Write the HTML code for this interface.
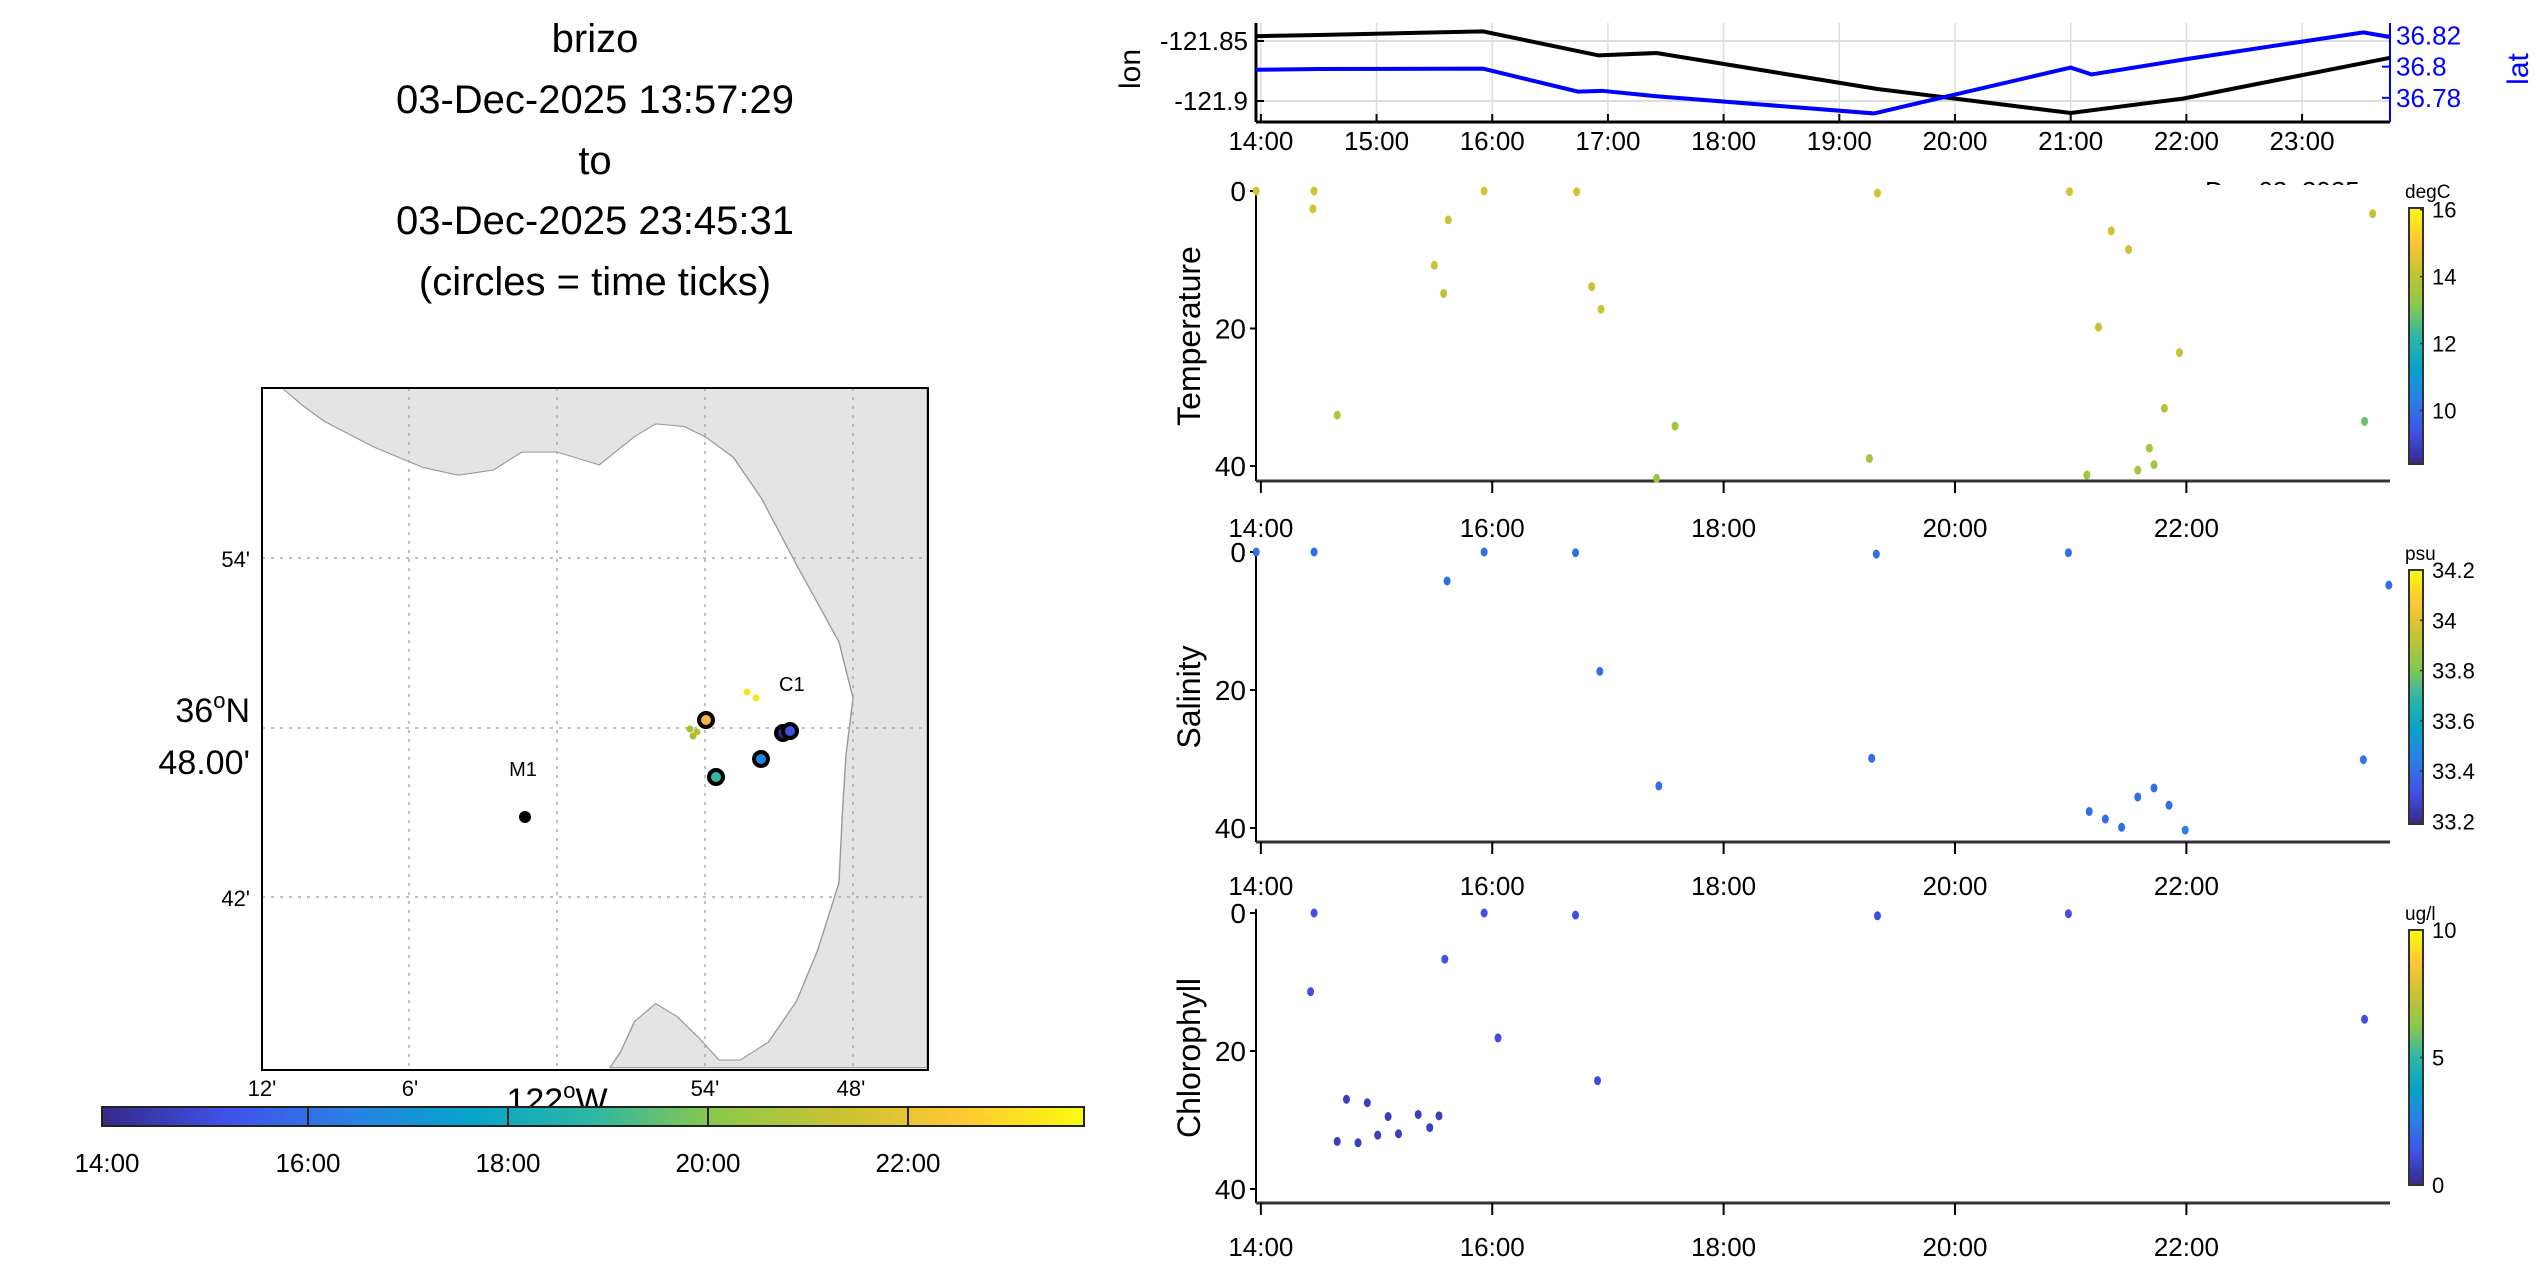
<!DOCTYPE html>
<html><head><meta charset="utf-8"><style>
body{margin:0;background:#fff}
svg{display:block;font-family:"Liberation Sans",sans-serif}
</style></head><body>
<svg id="s" width="2545" height="1273" viewBox="0 0 2545 1273">
<defs>
<linearGradient id="parH" x1="0" x2="1" y1="0" y2="0">
<stop offset="0" stop-color="#352a87"/><stop offset=".125" stop-color="#4050e8"/><stop offset=".25" stop-color="#2b7fe6"/><stop offset=".375" stop-color="#06a4ca"/><stop offset=".5" stop-color="#2eb7a4"/><stop offset=".625" stop-color="#8cc84a"/><stop offset=".75" stop-color="#c9c232"/><stop offset=".875" stop-color="#fec832"/><stop offset="1" stop-color="#f9fb0e"/></linearGradient>
<linearGradient id="parV" x1="0" x2="0" y1="1" y2="0">
<stop offset="0" stop-color="#352a87"/><stop offset=".125" stop-color="#4050e8"/><stop offset=".25" stop-color="#2b7fe6"/><stop offset=".375" stop-color="#06a4ca"/><stop offset=".5" stop-color="#2eb7a4"/><stop offset=".625" stop-color="#8cc84a"/><stop offset=".75" stop-color="#c9c232"/><stop offset=".875" stop-color="#fec832"/><stop offset="1" stop-color="#f9fb0e"/></linearGradient>
<clipPath id="mapclip"><rect x="262" y="388" width="666" height="682"/></clipPath>
</defs>
<g font-size="40" text-anchor="middle" fill="#000">
<text x="595" y="52">brizo</text>
<text x="595" y="113">03-Dec-2025 13:57:29</text>
<text x="595" y="174">to</text>
<text x="595" y="234">03-Dec-2025 23:45:31</text>
<text x="595" y="295">(circles = time ticks)</text>
</g>
<g>
<rect x="262" y="388" width="666" height="682" fill="#fff" stroke="#000" stroke-width="2"/>
<g clip-path="url(#mapclip)">
<g transform="translate(0,370) scale(0.705,0.513)">
<polygon fill="#e4e4e4" stroke="#999" stroke-width="2" points="400,35 430,70 460,100 530,150 600,190 650,205 700,195 740,160 790,160 850,185 900,130 930,105 970,110 1000,130 1040,170 1080,250 1130,380 1190,530 1210,640 1200,750 1195,860 1190,1000 1160,1130 1130,1230 1090,1310 1050,1345 1020,1345 990,1300 960,1260 930,1235 900,1270 880,1330 865,1360 1315,1360 1315,35"/>
</g>
<g stroke="#aaa" stroke-width="1.5" stroke-dasharray="3,6">
<line x1="409" y1="388" x2="409" y2="1070"/><line x1="557" y1="388" x2="557" y2="1070"/>
<line x1="705" y1="388" x2="705" y2="1070"/><line x1="853" y1="388" x2="853" y2="1070"/>
<line x1="262" y1="558" x2="928" y2="558"/><line x1="262" y1="728" x2="928" y2="728"/><line x1="262" y1="897" x2="928" y2="897"/>
</g>
</g>
<rect x="262" y="388" width="666" height="682" fill="none" stroke="#000" stroke-width="2"/>
<g font-size="22" text-anchor="end">
<text x="250" y="567">54'</text><text x="250" y="906">42'</text>
<text x="250" y="722" font-size="34">36<tspan dy="-14" font-size="22">o</tspan><tspan dy="14">N</tspan></text>
<text x="250" y="774" font-size="34">48.00'</text>
</g>
<g font-size="22" text-anchor="middle">
<text x="262" y="1096">12'</text><text x="410" y="1096">6'</text><text x="705" y="1096">54'</text><text x="851" y="1096">48'</text>
<text x="557" y="1112" font-size="34">122<tspan dy="-14" font-size="22">o</tspan><tspan dy="14">W</tspan></text>
</g>
<text x="779" y="691" font-size="20">C1</text>
<text x="523" y="776" font-size="20" text-anchor="middle">M1</text>
<circle cx="525" cy="817" r="6" fill="#000"/>
<circle cx="747" cy="692" r="3.5" fill="#f2e81c"/><circle cx="756" cy="698" r="3.5" fill="#f2e81c"/>
<circle cx="690" cy="729" r="3.5" fill="#a8bf2c"/><circle cx="693" cy="736" r="3.5" fill="#a8bf2c"/><circle cx="697" cy="732" r="3.5" fill="#b8c02a"/>
<circle cx="706" cy="720" r="7" fill="#f5b43a" stroke="#000" stroke-width="4"/>
<circle cx="716" cy="777" r="7" fill="#2eb7a4" stroke="#000" stroke-width="4"/>
<circle cx="761" cy="759" r="7" fill="#1e85e0" stroke="#000" stroke-width="4"/>
<circle cx="783" cy="733" r="7" fill="#352a87" stroke="#000" stroke-width="4"/>
<circle cx="790" cy="731" r="7" fill="#3b4fe0" stroke="#000" stroke-width="4"/>
</g>
<g>
<rect x="102" y="1107" width="982" height="19" fill="url(#parH)" stroke="#222" stroke-width="2"/>
<g stroke="#222" stroke-width="2"><line x1="308" y1="1107" x2="308" y2="1126"/><line x1="508" y1="1107" x2="508" y2="1126"/><line x1="708" y1="1107" x2="708" y2="1126"/><line x1="908" y1="1107" x2="908" y2="1126"/></g>
<g font-size="26" text-anchor="middle"><text x="107" y="1172">14:00</text><text x="308" y="1172">16:00</text><text x="508" y="1172">18:00</text><text x="708" y="1172">20:00</text><text x="908" y="1172">22:00</text></g>
</g>
<g id="plots"></g>
</svg>
<script>
const lonTimes=[13.958,14.5,15.92,16.92,17.42,19.33,21.0,21.97,23.76];
const lonVals=[-121.846,-121.845,-121.842,-121.862,-121.86,-121.89,-121.91,-121.898,-121.864];
const latTimes=[13.958,14.5,15.92,16.74,16.95,17.42,19.3,21.0,21.18,21.97,23.53,23.76];
const latVals=[36.798,36.7985,36.7987,36.784,36.7845,36.781,36.770,36.7994,36.795,36.8045,36.822,36.819];
const tempTimes=[13.96,14.46,14.45,14.66,15.93,15.62,15.5,15.58,16.73,16.86,16.94,17.42,17.58,19.26,19.33,20.99,21.14,21.24,21.35,21.5,21.58,21.68,21.72,21.81,21.94,23.54,23.61];
const tempDepths=[0,0,2.6,32.6,0,4.2,10.8,14.9,0.1,13.9,17.2,41.8,34.2,38.9,0.3,0.1,41.3,19.8,5.8,8.5,40.6,37.4,39.8,31.6,23.5,33.5,3.3];
const tempVals=[14.3,14.3,14.3,13.9,14.3,14.2,14.1,14.1,14.3,14.2,14.2,13.4,13.5,13.6,14.3,14.3,13.5,14.1,14.2,14.2,13.5,13.5,13.5,13.9,14.1,12.8,14.1];
const salTimes=[13.96,14.46,15.61,15.93,16.72,16.93,17.44,19.28,19.32,20.98,21.16,21.3,21.44,21.58,21.72,21.85,21.99,23.53,23.75];
const salDepths=[0,0,4.2,0,0.1,17.3,33.9,29.9,0.3,0.1,37.6,38.7,39.9,35.5,34.2,36.7,40.3,30.1,4.8];
const salVals=[33.4,33.4,33.4,33.4,33.4,33.4,33.4,33.4,33.4,33.4,33.4,33.4,33.4,33.4,33.4,33.4,33.45,33.42,33.4];
const chlTimes=[14.46,14.43,15.59,15.93,16.72,16.05,16.91,14.74,14.92,15.1,15.36,15.54,15.46,15.19,15.01,14.66,14.84,19.33,20.98,23.54];
const chlDepths=[0,11.4,6.7,0,0.3,18.1,24.3,27,27.5,29.5,29.2,29.4,31.1,32,32.2,33.1,33.3,0.4,0.1,15.4];
const chlVals=[1.2,1.2,1.3,1.2,1.2,1.1,1.1,0.7,0.7,0.7,0.7,0.7,0.7,0.7,0.7,0.7,0.7,1.2,1.2,1.2];
const hourTicks=[14,15,16,17,18,19,20,21,22,23];
const panelTicks=[14,16,18,20,22];
const lonTicks=[-121.85,-121.9];
const latTicks=[36.82,36.8,36.78];
const depthTicks=[0,20,40];
(function(){
const NS="http://www.w3.org/2000/svg";
const X0=1256,X1=2390,T0=13.958,T1=23.76;
const tx=t=>X0+(t-T0)/(T1-T0)*(X1-X0);
const stops=[[53,42,135],[64,80,232],[43,127,230],[6,164,202],[46,183,164],[140,200,74],[201,194,50],[254,200,50],[249,251,14]];
function parula(f){f=Math.max(0,Math.min(1,f))*8;const i=Math.min(7,Math.floor(f)),r=f-i;const a=stops[i],b=stops[i+1];return `rgb(${a.map((v,k)=>Math.round(v+(b[k]-v)*r)).join(',')})`;}
const root=document.getElementById('plots');
function el(tag,attrs,parent){const e=document.createElementNS(NS,tag);for(const k in attrs)e.setAttribute(k,attrs[k]);(parent||root).appendChild(e);return e;}
function txt(s,attrs,parent){const e=el('text',attrs,parent);e.textContent=s;return e;}

const topG=el('g',{});


const PT=23,PB=122;
const ly=v=>PT+(-121.835-v)/(-121.835+121.9175)*(PB-PT);
const ry=v=>PT+(36.828-v)/(36.828-36.7645)*(PB-PT);
hourTicks.forEach(h=>{const x=tx(h);el('line',{x1:x,x2:x,y1:PT,y2:PB,stroke:'#ddd','stroke-width':1.5},topG);el('line',{x1:x,x2:x,y1:PB,y2:PB-8,stroke:'#000','stroke-width':2},topG);
 const t=txt(h+':00',{x:x,y:150,'font-size':26,'text-anchor':'middle'},topG);});
lonTicks.forEach(v=>{const y=ly(v);el('line',{x1:X0,x2:X1,y1:y,y2:y,stroke:'#ddd','stroke-width':2},topG);el('line',{x1:X0,x2:X0+8,y1:y,y2:y,stroke:'#000','stroke-width':2},topG);
 const t=txt(String(v),{x:X0-8,y:y+9,'font-size':26,'text-anchor':'end'},topG);});
latTicks.forEach(v=>{const y=ry(v);el('line',{x1:X1-8,x2:X1,y1:y,y2:y,stroke:'#00f','stroke-width':2},topG);
 const t=txt(String(v),{x:X1+6,y:y+9,'font-size':26,fill:'#00f'},topG);});
el('line',{x1:X0,x2:X0,y1:PT,y2:PB,stroke:'#000','stroke-width':3},topG);
el('line',{x1:X0,x2:X1,y1:PB,y2:PB,stroke:'#000','stroke-width':3},topG);
el('line',{x1:X1,x2:X1,y1:PT,y2:PB,stroke:'#00f','stroke-width':2},topG);
const lonLine=el('polyline',{points:lonTimes.map((t,i)=>tx(t)+','+ly(lonVals[i])).join(' '),fill:'none',stroke:'#000','stroke-width':4},topG);


const latLine=el('polyline',{points:latTimes.map((t,i)=>tx(t)+','+ry(latVals[i])).join(' '),fill:'none',stroke:'#00f','stroke-width':4},topG);


const lonT=txt('lon',{x:0,y:0,'font-size':30,'text-anchor':'middle',transform:'translate(1140,69) rotate(-90)'},topG);


const latT=txt('lat',{x:0,y:0,'font-size':30,fill:'#00f','text-anchor':'middle',transform:'translate(2528,69) rotate(-90)'},topG);


txt('Dec 03, 2025',{x:2205,y:200,'font-size':26},topG);

function panel(name,y0,y40,bottom,labY,times,depths,vals,vmin,vmax,cbTop,cbBot,cbTicks,unit){
 const g=el('g',{});
 
 
 const dy=d=>y0+d*(y40-y0)/40;
 el('rect',{x:X0,y:y0-6,width:X1-X0,height:bottom-y0+6,fill:'#fff'},g);
 el('line',{x1:X0,x2:X0,y1:y0-4,y2:bottom,stroke:'#000','stroke-width':2},g);
 el('line',{x1:X0,x2:X1,y1:bottom,y2:bottom,stroke:'#333','stroke-width':3},g);
 depthTicks.forEach(d=>{const y=dy(d);el('line',{x1:X0-6,x2:X0,y1:y,y2:y,stroke:'#000','stroke-width':2},g);
  const t=txt(String(d),{x:X0-10,y:y+10,'font-size':28,'text-anchor':'end'},g);});
 panelTicks.forEach(h=>{const x=tx(h);el('line',{x1:x,x2:x,y1:bottom,y2:bottom+12,stroke:'#000','stroke-width':2},g);
  const t=txt(h+':00',{x:x,y:labY,'font-size':26,'text-anchor':'middle'},g);});
 const yt=txt(name.charAt(0).toUpperCase()+name.slice(1),{x:0,y:0,'font-size':32,'text-anchor':'middle',transform:`translate(1200,${(y0+bottom)/2}) rotate(-90)`},g);
 
 
 times.forEach((t,i)=>{const c=el('ellipse',{cx:tx(t),cy:dy(depths[i]),rx:3.5,ry:4.5,fill:parula((vals[i]-vmin)/(vmax-vmin))},g);
  
  });
 const cb=el('g',{},g);
 
 
 el('rect',{x:2409,y:cbTop,width:14,height:cbBot-cbTop,fill:'url(#parV)',stroke:'#333','stroke-width':2},cb);
 cbTicks.forEach(v=>{const y=cbBot-(v-vmin)/(vmax-vmin)*(cbBot-cbTop);el('line',{x1:2420,x2:2423,y1:y,y2:y,stroke:'#333','stroke-width':1.5},cb);
  txt(String(v),{x:2432,y:y+8,'font-size':22},cb);});
 txt(unit,{x:2405,y:cbTop-10,'font-size':19},cb);
}
panel('temperature',191,466,481,537,tempTimes,tempDepths,tempVals,8.4,16.05,208,464,[16,14,12,10],'degC');
panel('salinity',552,828,842,895,salTimes,salDepths,salVals,33.19,34.2,570,824,[34.2,34,33.8,33.6,33.4,33.2],'psu');
panel('chlorophyll',913,1189,1203,1256,chlTimes,chlDepths,chlVals,0,10,930,1185,[10,5,0],'ug/l');
})();
</script>
</body></html>
